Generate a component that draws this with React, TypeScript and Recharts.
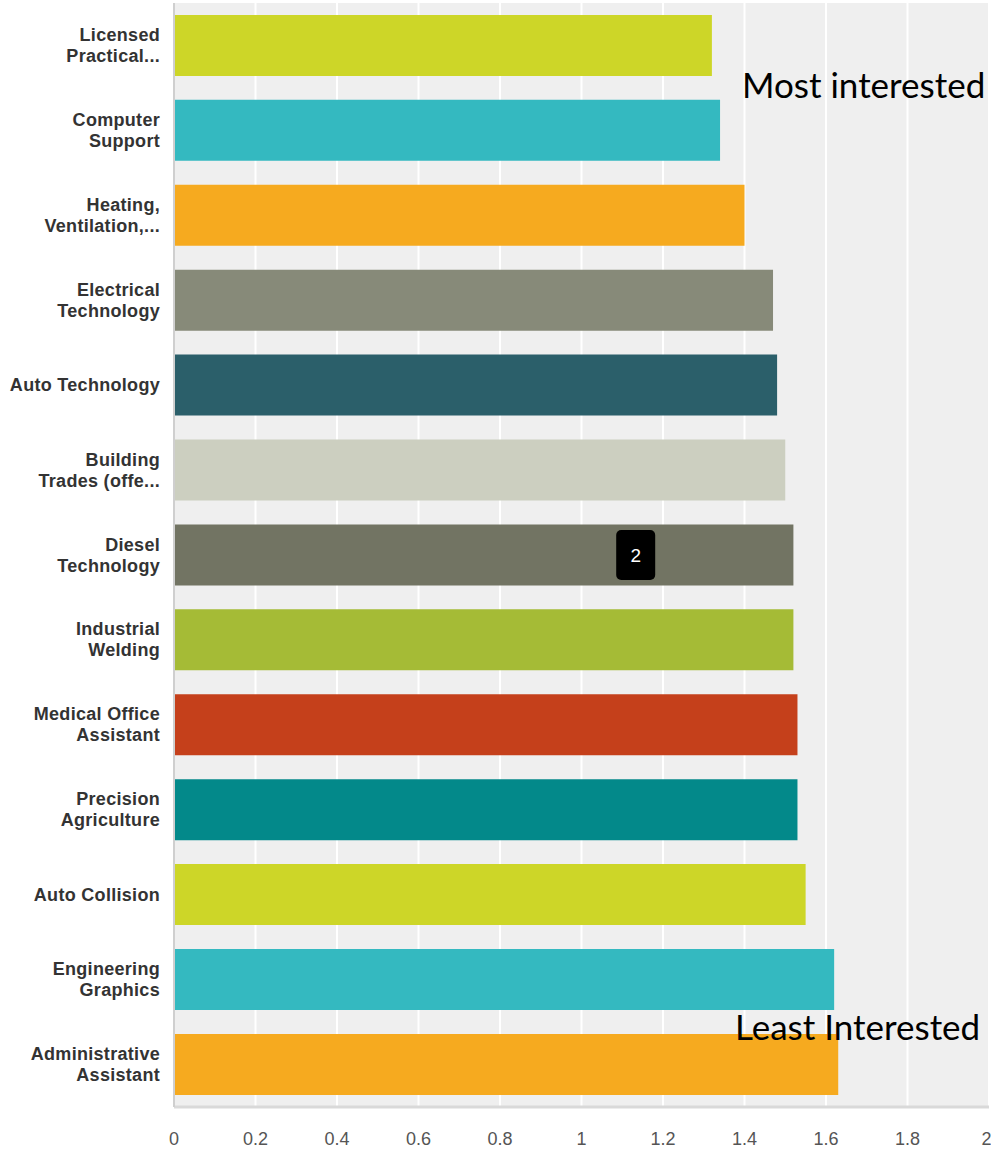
import { BarChart, Bar, XAxis, YAxis, CartesianGrid, Cell, ReferenceDot } from 'recharts';

const categories = [
  'Licensed Practical...',
  'Computer Support',
  'Heating, Ventilation,...',
  'Electrical Technology',
  'Auto Technology',
  'Building Trades (offe...',
  'Diesel Technology',
  'Industrial Welding',
  'Medical Office Assistant',
  'Precision Agriculture',
  'Auto Collision',
  'Engineering Graphics',
  'Administrative Assistant',
];

// how each label wraps onto lines
const labelLines: string[][] = [
  ['Licensed', 'Practical...'],
  ['Computer', 'Support'],
  ['Heating,', 'Ventilation,...'],
  ['Electrical', 'Technology'],
  ['Auto Technology'],
  ['Building', 'Trades (offe...'],
  ['Diesel', 'Technology'],
  ['Industrial', 'Welding'],
  ['Medical Office', 'Assistant'],
  ['Precision', 'Agriculture'],
  ['Auto Collision'],
  ['Engineering', 'Graphics'],
  ['Administrative', 'Assistant'],
];

const averages = [1.32, 1.34, 1.4, 1.47, 1.48, 1.5, 1.52, 1.52, 1.53, 1.53, 1.55, 1.62, 1.63];

const barColors = [
  '#cdd628', '#34b9c0', '#f6aa1f', '#878a79', '#2b5f6a', '#cccfc0', '#727463',
  '#a5bb36', '#c5401b', '#03898a', '#cdd628', '#34b9c0', '#f6aa1f',
];

const xTicks = [0, 0.2, 0.4, 0.6, 0.8, 1, 1.2, 1.4, 1.6, 1.8, 2];

const data = categories.map((name, i) => ({ name, value: averages[i] }));

const CategoryTick = (props: any) => {
  const { x, y, index } = props;
  const lines = labelLines[index] || [props.payload.value];
  const start = lines.length === 1 ? 6 : -4.5;
  return (
    <text
      x={x - 6}
      y={y}
      textAnchor='end'
      fill='#333'
      fontSize={18}
      fontWeight='bold'
      letterSpacing={0.3}
      fontFamily='Liberation Sans, Arial, sans-serif'
    >
      {lines.map((l, i) => (
        <tspan key={i} x={x - 6} y={y + start + i * 21}>
          {l}
        </tspan>
      ))}
    </text>
  );
};

const Badge = (props: any) => {
  const { cx, cy } = props;
  return (
    <g>
      <rect x={cx - 19.5} y={cy - 25} width={39} height={50} rx={5} fill='#000' />
      <text
        x={cx}
        y={cy + 7}
        textAnchor='middle'
        fill='#fff'
        fontSize={19}
        fontFamily='Liberation Sans, Arial, sans-serif'
      >
        2
      </text>
    </g>
  );
};

const App = () => {
  return (
    <div style={{ position: 'absolute', left: 0, top: 0, width: 991, height: 1150, background: '#fff' }}>
      <BarChart
        layout='vertical'
        width={991}
        height={1150}
        data={data}
        margin={{ top: 3, right: 2, left: 0, bottom: 0 }}
        barCategoryGap='14%'
      >
        <CartesianGrid
          horizontal={false}
          fill='#efefef'
          stroke='#ffffff'
          strokeWidth={2}
        />
        <XAxis
          type='number'
          domain={[0, 2]}
          ticks={xTicks}
          height={43}
          axisLine={{ stroke: '#d9d9d9', strokeWidth: 3 }}
          tickLine={false}
          tickSize={0}
          tickMargin={25}
          tick={{ fill: '#555', fontSize: 18, fontFamily: 'Liberation Sans, Arial, sans-serif' }}
        />
        <YAxis
          type='category'
          dataKey='name'
          width={174}
          axisLine={{ stroke: '#cfcfcf', strokeWidth: 2 }}
          tickLine={false}
          interval={0}
          tick={<CategoryTick />}
        />
        <Bar dataKey='value' isAnimationActive={false}>
          {data.map((d, i) => (
            <Cell key={d.name} fill={barColors[i]} />
          ))}
        </Bar>
        <ReferenceDot x={1.133} y='Diesel Technology' r={0} shape={<Badge />} />
      </BarChart>
      <svg
        width={991}
        height={1150}
        style={{ position: 'absolute', left: 0, top: 0, pointerEvents: 'none' }}
      >
        <text x={742} y={98} fontSize={35} fontFamily='Lato, sans-serif' fill='#000'>
          Most interested
        </text>
        <text x={735} y={1040} fontSize={35} fontFamily='Lato, sans-serif' fill='#000'>
          Least Interested
        </text>
      </svg>
    </div>
  );
};

export default App;
